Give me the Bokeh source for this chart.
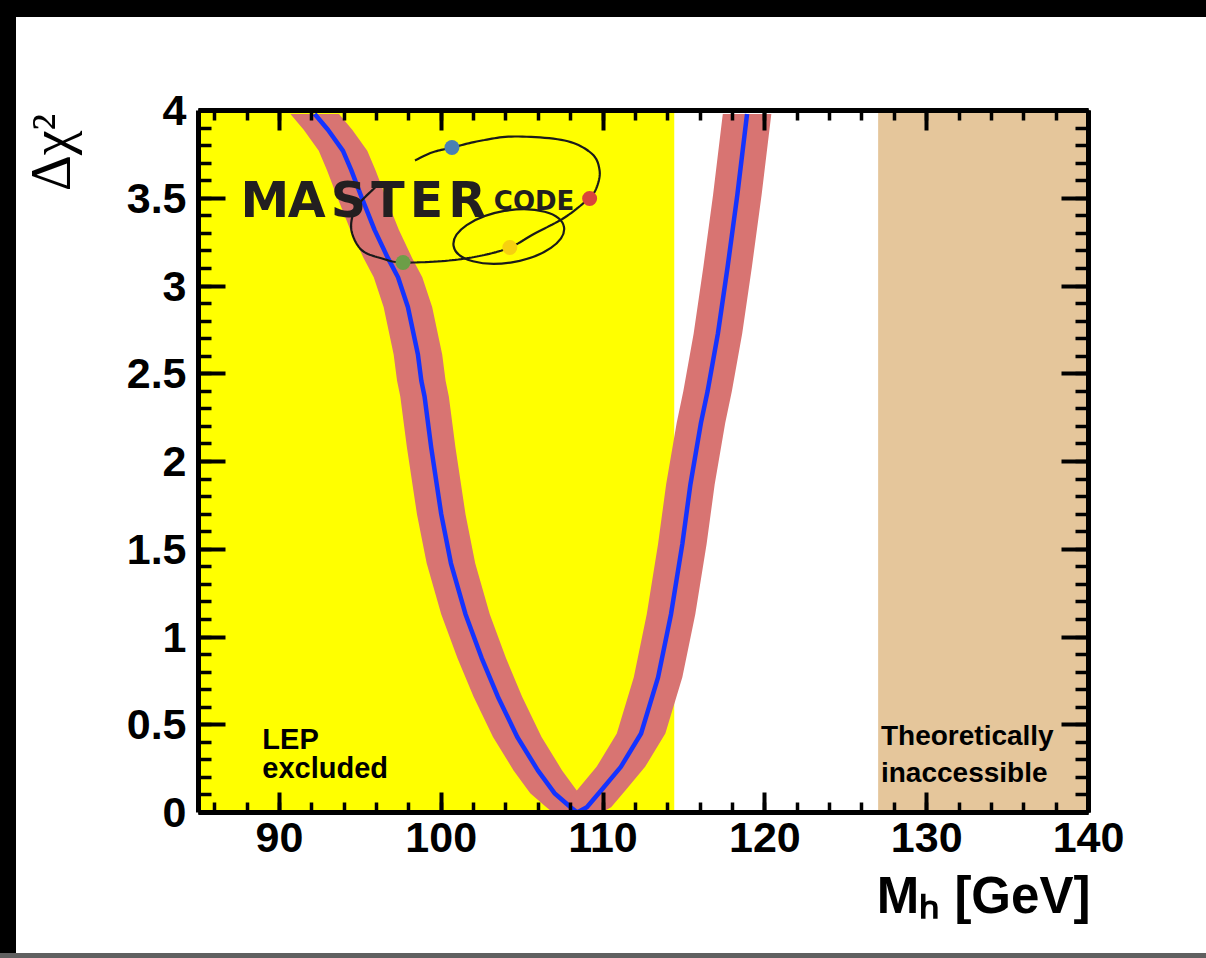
import numpy as np
from bokeh.plotting import figure
from bokeh.models import (Label, LinearAxis, SingleIntervalTicker, NumeralTickFormatter,
                          Range1d, Div)
from bokeh.layouts import column, row
from bokeh.embed import file_html
from bokeh.resources import INLINE

# ---------------- data ----------------
mh = [92.18, 93.0, 93.93, 94.44, 95.06, 95.88, 96.7, 97.33, 97.94, 98.56, 98.77, 98.97,
      99.38, 100.0, 100.6, 101.5, 102.5, 103.5, 104.7, 105.97, 107.0, 108.0, 108.4,
      109.0, 109.88, 111.1, 112.35, 113.4, 114.2, 114.9, 115.4, 116.05, 116.46,
      117.1, 117.7, 118.3, 118.9]
dchi2 = [3.98, 3.89, 3.77, 3.66, 3.51, 3.32, 3.16, 3.05, 2.88, 2.61, 2.46, 2.37,
         2.08, 1.70, 1.42, 1.13, 0.88, 0.66, 0.43, 0.24, 0.11, 0.03, 0.0,
         0.03, 0.125, 0.26, 0.45, 0.77, 1.13, 1.53, 1.87, 2.22, 2.40,
         2.73, 3.11, 3.52, 3.98]
theory_err = 1.5          # GeV, horizontal half-width of the red band
lep_limit = 114.4         # LEP exclusion
theory_max = 127.0        # theoretically inaccessible above
x_lo, x_hi = 85, 140
y_lo, y_hi = 0, 4
x_title = "Mₕ [GeV]"
y_title = "Δχ²"

# ---------------- layout geometry (page pixels) ----------------
PAGE_W, PAGE_H = 1206, 958
TOP_BAR, LEFT_BAR, BOT_BAR = 17, 16, 5
FIG_W, FIG_H = PAGE_W - LEFT_BAR, PAGE_H - TOP_BAR - BOT_BAR
FR_L, FR_T, FR_W, FR_H = 196, 110, 892, 702   # frame in page coords
NBSP = "\u00a0"


def gx(xp):
    return x_lo + (xp - FR_L) * (x_hi - x_lo) / FR_W


def gy(yp):
    return y_hi - (yp - FR_T) * (y_hi - y_lo) / FR_H


p = figure(width=FIG_W, height=FIG_H, output_backend="svg", toolbar_location=None,
           x_range=Range1d(x_lo, x_hi), y_range=Range1d(y_lo, y_hi),
           min_border_left=FR_L - LEFT_BAR, min_border_top=FR_T - TOP_BAR,
           min_border_right=FIG_W - (FR_L - LEFT_BAR) - FR_W,
           min_border_bottom=FIG_H - (FR_T - TOP_BAR) - FR_H,
           background_fill_color="white", border_fill_color="white",
           x_axis_location=None, y_axis_location=None)
p.outline_line_color = None
p.xgrid.visible = False
p.ygrid.visible = False

# shaded regions
p.quad(left=x_lo, right=lep_limit, bottom=y_lo, top=y_hi, fill_color="#ffff00", line_color=None)
p.quad(left=theory_max, right=x_hi, bottom=y_lo, top=y_hi, fill_color="#e5c69b", line_color=None)

# red band: each branch shifted by +-theory_err
x = np.array(mh)
y = np.array(dchi2)
imin = int(np.argmin(y))
for sl in (slice(0, imin + 1), slice(imin, None)):
    bx, by = x[sl], y[sl]
    p.patch(np.concatenate([bx - theory_err, (bx + theory_err)[::-1]]),
            np.concatenate([by, by[::-1]]), fill_color="#d87472", line_color=None,
            line_join="round")

p.line(mh, dchi2, line_color="#1433ff", line_width=4.5, line_join="round")

# ---------------- MasterCode logo ----------------
logo_path = [(413, 160), (430, 152), (450, 147), (480, 140), (513, 136), (563, 140),
             (590, 153), (598, 170), (595, 187), (587, 198), (563, 217), (533, 233),
             (508, 247), (480, 255), (447, 260), (401, 262), (380, 258), (360, 250),
             (350, 233), (350, 217), (357, 203), (373, 187)]


def catmull(pts, n=12):
    pts = np.array(pts, dtype=float)
    P = np.vstack([pts[0], pts, pts[-1]])
    out = []
    for i in range(1, len(P) - 2):
        p0, p1, p2, p3 = P[i - 1], P[i], P[i + 1], P[i + 2]
        for t in np.linspace(0, 1, n, endpoint=False):
            out.append(0.5 * ((2 * p1) + (-p0 + p2) * t + (2 * p0 - 5 * p1 + 4 * p2 - p3) * t ** 2
                              + (-p0 + 3 * p1 - 3 * p2 + p3) * t ** 3))
    out.append(P[-2])
    return np.array(out)


lp = catmull(logo_path)
p.line(gx(lp[:, 0]), gy(lp[:, 1]), line_color="#1a1a1a", line_width=2.2)
p.ellipse(x=[gx(507)], y=[gy(236)], width=112, height=52, angle=0.17,
          width_units="screen", height_units="screen",
          fill_color=None, line_color="#1a1a1a", line_width=2.2)
dots_px = [(450, 147), (588, 198), (508, 247), (401, 262)]
dots_col = ["#4a80b2", "#d9453c", "#f6d010", "#6c9e47"]
p.scatter([gx(d[0]) for d in dots_px], [gy(d[1]) for d in dots_px], size=15,
          fill_color=dots_col, line_color=None)

# logo lettering, spread out like the wide logo face
logo_letters = "MASTER"
letter_w = {"M": 0.863, "A": 0.774, "S": 0.720, "T": 0.682, "E": 0.683, "R": 0.770}
LOGO_FS = 49
gap = (246 - sum(letter_w[c] for c in logo_letters) * LOGO_FS) / (len(logo_letters) - 1)
xp = 238.0
for c in logo_letters:
    p.add_layout(Label(x=gx(xp), y=gy(200), text=c, text_font="DejaVu Sans",
                       text_font_style="bold", text_font_size=f"{LOGO_FS}px",
                       text_color="#231f20", text_baseline="alphabetic"))
    xp += letter_w[c] * LOGO_FS + gap
p.add_layout(Label(x=gx(492), y=gy(200), text="CODE", text_font="DejaVu Sans",
                   text_font_style="bold", text_font_size="26px", text_color="#231f20",
                   text_baseline="alphabetic"))

# ---------------- region texts ----------------
def txt(xp, yp, s, size="29px"):
    p.add_layout(Label(x=gx(xp), y=gy(yp), text=s, text_font="Liberation Sans",
                       text_font_style="bold", text_font_size=size, text_color="black",
                       text_align="left", text_baseline="alphabetic"))


txt(260, 738, "LEP")
txt(260, 767, "excluded")
txt(880, 735, "Theoretically", size="28px")
txt(880, 772, "inaccessible", size="28px")

# ---------------- axes ----------------
def make_axis(side):
    horiz = side in ("below", "above")
    tk = SingleIntervalTicker(interval=10 if horiz else 0.5, num_minor_ticks=5)
    ax = LinearAxis(ticker=tk)
    ax.axis_line_width = 5
    ax.axis_line_color = "black"
    ax.major_tick_out = 0
    ax.minor_tick_out = 0
    ax.major_tick_in = 20 if horiz else 27
    ax.minor_tick_in = 10 if horiz else 13
    ax.major_tick_line_width = 4
    ax.minor_tick_line_width = 3.5
    ax.major_label_text_font = "Liberation Sans"
    ax.major_label_text_font_style = "bold"
    ax.major_label_text_font_size = "43px"
    ax.major_label_text_color = "black"
    ax.major_label_standoff = 10 if horiz else 12
    if not horiz:
        ax.formatter = NumeralTickFormatter(format="0.[0]")
    if side in ("above", "right"):
        ax.major_label_text_font_size = "0px"
        ax.major_label_text_color = None
    props = ax.properties()
    if side == "below":
        # centred label, pushed to the right end with leading no-break spaces
        ax.axis_label = NBSP * 48 + x_title
        ax.axis_label_text_font = "Liberation Sans"
        ax.axis_label_text_font_style = "bold"
        ax.axis_label_text_font_size = "51px"
        ax.axis_label_standoff = 12
        ax.axis_label_text_color = "black"
    if side == "left":
        # label centred on the top end of the axis: pad its end with no-break spaces
        ax.axis_label = y_title + NBSP * 6
        ax.axis_label_text_font = "Liberation Serif"
        ax.axis_label_text_font_style = "normal"
        ax.axis_label_text_font_size = "56px"
        ax.axis_label_standoff = 42
        ax.axis_label_text_color = "black"
        if "axis_label_align" in props:
            ax.axis_label_align = "end"
    p.add_layout(ax, side)


for s in ("below", "left", "above", "right"):
    make_axis(s)

top = Div(width=PAGE_W, height=TOP_BAR, margin=0, styles={"background-color": "#000"})
left = Div(width=LEFT_BAR, height=FIG_H, margin=0, styles={"background-color": "#000"})
bot = Div(width=PAGE_W, height=BOT_BAR, margin=0, styles={"background-color": "#606060"})
layout = column(top, row(left, p, spacing=0, margin=0), bot, spacing=0, margin=0)

open("out.html", "w").write(file_html(layout, INLINE))
